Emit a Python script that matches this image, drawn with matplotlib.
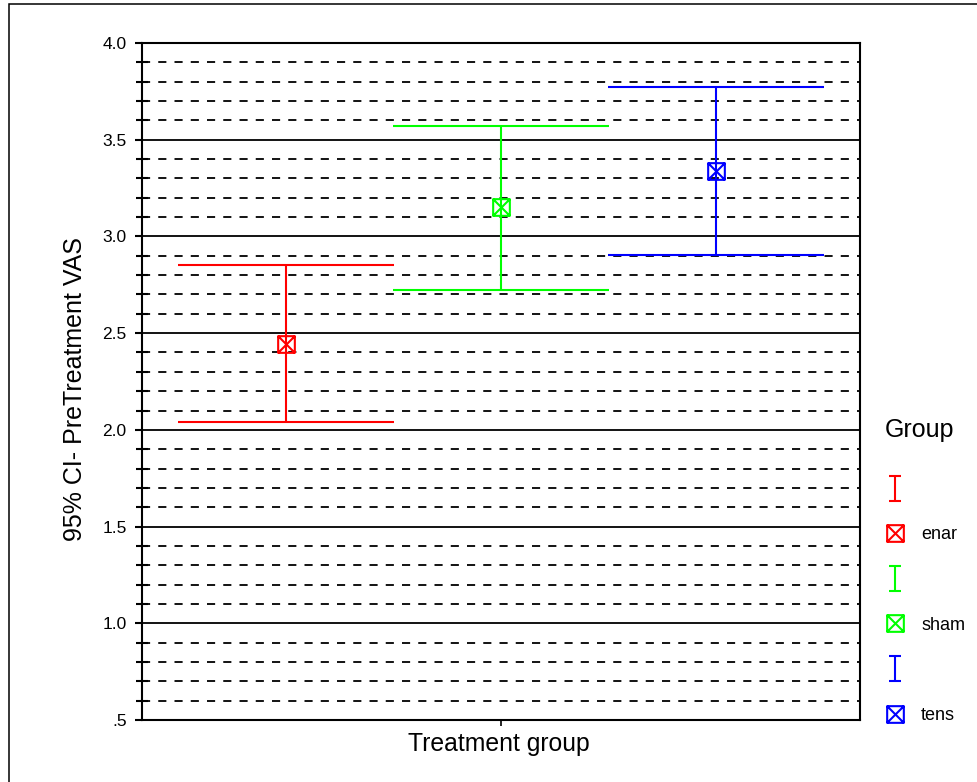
import matplotlib
matplotlib.use("Agg")
import matplotlib.pyplot as plt
import numpy as np
from matplotlib.path import Path
from matplotlib.lines import Line2D
from matplotlib.patches import Rectangle
from matplotlib.ticker import MultipleLocator, FixedLocator, FuncFormatter

plt.rcParams['font.family'] = ['Liberation Sans', 'DejaVu Sans']

# data
groups = ["enar", "sham", "tens"]
means = [2.445, 3.15, 3.34]
lower = [2.04, 2.725, 2.905]
upper = [2.85, 3.57, 3.77]
colors = ["#ff0000", "#00ff00", "#0000ff"]

# custom markers: box with an X, and an I-beam for the legend
box_x = Path([(-1, -1), (1, -1), (1, 1), (-1, 1), (-1, -1),
              (-1, -1), (1, 1), (-1, 1), (1, -1)],
             [Path.MOVETO, Path.LINETO, Path.LINETO, Path.LINETO, Path.CLOSEPOLY,
              Path.MOVETO, Path.LINETO, Path.MOVETO, Path.LINETO])
ibeam = Path([(-0.5, -1), (0.5, -1), (0, -1), (0, 1), (-0.5, 1), (0.5, 1)],
             [Path.MOVETO, Path.LINETO, Path.MOVETO, Path.LINETO,
              Path.MOVETO, Path.LINETO])

fig = plt.figure(figsize=(9.77, 7.82), dpi=100)
ax = fig.add_axes([142 / 977, 1 - 720 / 782, 718 / 977, 677 / 782])

xpos = np.arange(1, len(groups) + 1)
for x, m, lo, hi, c in zip(xpos, means, lower, upper, colors):
    ax.errorbar(x, m, yerr=[[m - lo], [hi - m]], fmt='none', ecolor=c,
                elinewidth=1.5, capsize=77.8, capthick=1.5, zorder=3)
    ax.plot(x, m, marker=box_x, markersize=12, mfc='none', mec=c,
            mew=1.5, linestyle='none', zorder=4)

ax.set_xlim(0.33, 3.67)
ax.set_ylim(0.5, 4.0)

ax.yaxis.set_major_locator(MultipleLocator(0.5))
ax.yaxis.set_minor_locator(MultipleLocator(0.1))
ax.yaxis.set_major_formatter(FuncFormatter(
    lambda v, p: ".5" if abs(v - 0.5) < 1e-9 else "%.1f" % v))
ax.xaxis.set_major_locator(FixedLocator([2]))
ax.set_xticklabels([""])

ax.tick_params(axis='y', which='major', direction='out', length=5, width=1.5,
               labelsize=12.5, pad=6)
ax.tick_params(axis='y', which='minor', direction='inout', length=8.5, width=1.5)
ax.tick_params(axis='x', which='major', direction='out', length=4.5, width=1.2)

ax.grid(which='major', axis='y', color='black', linewidth=1.3, linestyle='-')
ax.grid(which='minor', axis='y', color='black', linewidth=1.3,
        linestyle=(0, (4.5, 4.5)))
ax.set_axisbelow(True)
for s in ax.spines.values():
    s.set_linewidth(1.5)
    s.set_color('black')

ax.set_xlabel("Treatment group", fontsize=17.8)
ax.xaxis.set_label_coords(0.497, -0.018)
ax.set_ylabel("95% CI- PreTreatment VAS", fontsize=18)
ax.yaxis.set_label_coords(-0.077, 0.489)

handles = []
labels = []
for g, c in zip(groups, colors):
    handles.append(Line2D([], [], marker=ibeam, markersize=18, mec=c, mew=1.5,
                          linestyle='none'))
    labels.append("")
    handles.append(Line2D([], [], marker=box_x, markersize=12, mfc='none',
                          mec=c, mew=1.5, linestyle='none'))
    labels.append(g)

fig.text(885 / 977, 1 - 430 / 782, "Group", fontsize=18, ha='left',
         va='center')
leg = fig.legend(handles, labels, loc='upper left',
                 bbox_to_anchor=(883.7 / 977, 1 - 481 / 782),
                 frameon=False, fontsize=13, borderpad=0, borderaxespad=0,
                 handlelength=1.2, handletextpad=0.87, labelspacing=1.56)

fig.patches.append(Rectangle((9 / 977, -0.1), 1.2, 1 - 4 / 782 + 0.1,
                             transform=fig.transFigure, fill=False,
                             edgecolor='black', linewidth=1.1))

fig.savefig("out.png", dpi=100)
